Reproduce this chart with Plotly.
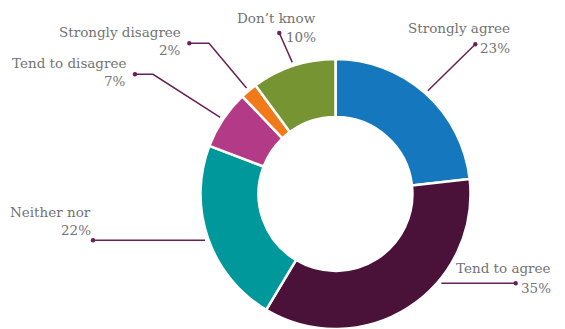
import math
import plotly.graph_objects as go

# Survey responses (percent of respondents)
categories = ["Strongly agree", "Tend to agree", "Neither nor",
              "Tend to disagree", "Strongly disagree", "Don\u2019t know"]
shares = [23, 35, 22, 7, 2, 10]
slice_colors = ["#1578be", "#4a1139", "#00989a", "#b23a87", "#f07a1a", "#779432"]

W, H = 565, 329
CX, CY, R = 335.5, 194.0, 135.0   # donut centre / outer radius in px
HOLE = 0.57
LINE_COL = "#6a1f56"
TEXT_COL = "#737373"
FONT = "DejaVu Serif"
FSIZE = 13.5

# Label placement: right edge of text, baselines-ish centres, dot position,
# optional elbow, and whether the connector runs horizontally into the ring.
label_layout = {
    "Strongly agree":    dict(tx=512, ny=27.5, py=47.5, dot=(475.3, 44.3), elbow=None, horiz=False),
    "Tend to agree":     dict(tx=553, ny=268, py=287.5, dot=(515.7, 283.3), elbow=None, horiz=True),
    "Neither nor":       dict(tx=93, ny=211.5, py=230, dot=(93, 240.3), elbow=None, horiz=True),
    "Tend to disagree":  dict(tx=128, ny=62.5, py=81, dot=(135, 74.3), elbow=(153, 74.3), horiz=False),
    "Strongly disagree": dict(tx=183, ny=31.5, py=50, dot=(189.3, 43.3), elbow=(209, 43.3), horiz=False),
    "Don\u2019t know":   dict(tx=317.5, ny=17.5, py=36.5, dot=(279.3, 33), elbow=None, horiz=False),
}

fig = go.Figure()
fig.add_trace(go.Pie(
    labels=categories, values=shares, hole=HOLE, sort=False,
    direction="clockwise", rotation=0, textinfo="none", hoverinfo="label+percent",
    marker=dict(colors=slice_colors, line=dict(color="white", width=2.5)),
    domain=dict(x=[(CX - R) / W, (CX + R) / W], y=[1 - (CY + R) / H, 1 - (CY - R) / H]),
    showlegend=False,
))

total = sum(shares)
r_touch = R + 3.5
shapes, annotations = [], []
cum = 0
for cat, val in zip(categories, shares):
    mid = math.radians((cum + val / 2) / total * 360)
    cum += val
    lay = label_layout[cat]
    dx, dy = lay["dot"]
    if lay["horiz"]:
        off = math.sqrt(max(r_touch ** 2 - (dy - CY) ** 2, 0))
        sx = CX + off if dx > CX else CX - off
        sy = dy
    else:
        sx = CX + r_touch * math.sin(mid)
        sy = CY - r_touch * math.cos(mid)
    pts = [(sx, sy)]
    if lay["elbow"]:
        pts.append(lay["elbow"])
    pts.append((dx, dy))
    path = "M " + " L ".join(f"{x:.2f},{y:.2f}" for x, y in pts)
    shapes.append(dict(type="path", path=path, xref="x", yref="y",
                       line=dict(color=LINE_COL, width=1.5)))
    shapes.append(dict(type="circle", xref="x", yref="y",
                       x0=dx - 2.2, x1=dx + 2.2, y0=dy - 2.2, y1=dy + 2.2,
                       fillcolor=LINE_COL, line=dict(width=0)))
    pct = round(val / total * 100)
    for txt, yy in ((cat, lay["ny"]), (f"{val}%", lay["py"])):
        annotations.append(dict(x=lay["tx"], y=yy, xref="x", yref="y", text=txt,
                                showarrow=False, xanchor="right", yanchor="middle",
                                font=dict(family=FONT, size=FSIZE, color=TEXT_COL)))

fig.update_layout(
    width=W, height=H, margin=dict(l=0, r=0, t=0, b=0),
    paper_bgcolor="white", plot_bgcolor="white",
    xaxis=dict(range=[0, W], visible=False, fixedrange=True),
    yaxis=dict(range=[H, 0], visible=False, fixedrange=True),
    shapes=shapes, annotations=annotations,
)

fig.write_html("out.html")
